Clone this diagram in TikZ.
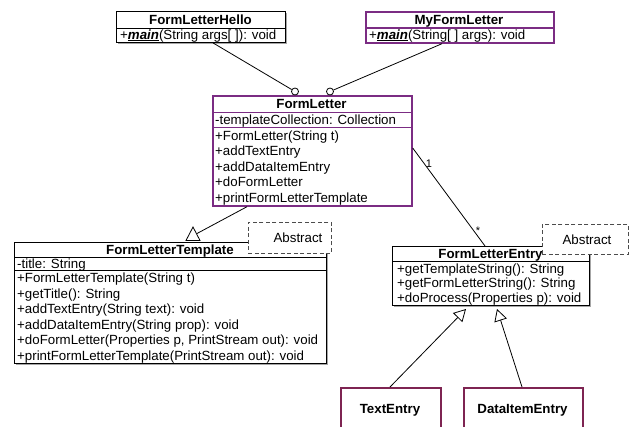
\documentclass[tikz,border=0pt]{standalone}
\usepackage{fontspec}
\setmainfont{Liberation Sans}
\usetikzlibrary{arrows.meta,shadows,calc}
\definecolor{umlpurple}{HTML}{7B2C83}
\definecolor{umlmaroon}{HTML}{7E2452}
\newcommand\umlfont{\fontsize{13.3}{15.5}\selectfont}
\newcommand\umlmain{\textbf{\textit{\underline{main}}}}
\tikzset{
  cls/.style={draw=black, line width=0.9pt, fill=white, anchor=north west, inner sep=0pt,
    drop shadow={shadow xshift=1.6pt, shadow yshift=-1.6pt, opacity=0.35, fill=black}},
  pcls/.style={cls, draw=umlpurple, line width=1.7pt},
  mcls/.style={cls, draw=umlmaroon, line width=1.7pt},
  absbox/.style={draw=black!70, dash pattern=on 4pt off 2.5pt, fill=white, line width=0.9pt,
    anchor=north west, inner sep=0pt},
  ttl/.style={anchor=base, inner sep=0pt, font=\umlfont\bfseries},
  mem/.style={anchor=base west, inner sep=0pt, font=\umlfont},
  sep/.style={line width=0.9pt, black},
  psep/.style={line width=1.7pt, umlpurple},
  wire/.style={line width=0.8pt, black},
  gen/.style={wire, -{Triangle[open, length=12pt, width=13pt, line width=0.8pt]}},
  lolli/.style={circle, draw=black, line width=0.8pt, fill=white, minimum size=7pt, inner sep=0pt},
  mult/.style={inner sep=0pt, font=\fontsize{11}{13}\selectfont},
}
\begin{document}
\begin{tikzpicture}[x=1pt, y=-1pt]
\useasboundingbox (0,0) rectangle (637,426);
\clip (0,0) rectangle (637,426);
\fill[white] (0,0) rectangle (637,426);

% ---------- FormLetterHello
\node[cls, minimum width=169pt, minimum height=31pt] (flh) at (116,11) {};
\draw[sep] (flh.west |- 0,28) -- (flh.east |- 0,28);
\node[ttl] (flhT) at (200.5,24) {FormLetterHello};
\node[mem] (flhM) at (120,39) {+\umlmain(String args[\ ]): void};

% ---------- MyFormLetter
\node[pcls, minimum width=188pt, minimum height=31pt] (mfl) at (365,11) {};
\draw[psep] (mfl.west |- 0,28) -- (mfl.east |- 0,28);
\node[ttl] (mflT) at (459,24) {MyFormLetter};
\node[mem] (mflM) at (369,39) {+\umlmain(String[\ ] args): void};

% ---------- FormLetter
\node[pcls, minimum width=199pt, minimum height=110pt] (fl) at (212,95) {};
\draw[psep] (fl.west |- 0,112.5) -- (fl.east |- 0,112.5);
\draw[psep] (fl.west |- 0,127.5) -- (fl.east |- 0,127.5);
\node[ttl] (flT) at (311.5,108.5) {FormLetter};
\node[mem] (flA) at (215,124.5) {-templateCollection: Collection};
\foreach \t [count=\i from 0] in {+FormLetter(String t), +addTextEntry, +addDataItemEntry, +doFormLetter, +printFormLetterTemplate}
  \node[mem] (flM\i) at (215,140.5+15.4*\i) {\t};

% ---------- FormLetterTemplate
\node[cls, minimum width=312pt, minimum height=121pt] (flt) at (14,242) {};
\draw[sep] (flt.west |- 0,257) -- (flt.east |- 0,257);
\draw[sep] (flt.west |- 0,270) -- (flt.east |- 0,270);
\node[ttl] (fltT) at (170,254.5) {FormLetterTemplate};
\node[mem] (fltA) at (17,268) {-title: String};
\foreach \t [count=\i from 0] in {+FormLetterTemplate(String t), +getTitle(): String, +addTextEntry(String text): void, +addDataItemEntry(String prop): void, {+doFormLetter(Properties p, PrintStream out): void}, +printFormLetterTemplate(PrintStream out): void}
  \node[mem] (fltM\i) at (17,282.5+15.5*\i) {\t};

% ---------- FormLetterEntry
\node[cls, minimum width=197pt, minimum height=59pt] (fle) at (392,246) {};
\draw[sep] (fle.west |- 0,261) -- (fle.east |- 0,261);
\node[ttl] (fleT) at (490.5,258) {FormLetterEntry};
\foreach \t [count=\i from 0] in {+getTemplateString(): String, +getFormLetterString(): String, +doProcess(Properties p): void}
  \node[mem] (fleM\i) at (397,273+14.7*\i) {\t};

% ---------- Abstract notes
\node[absbox, minimum width=83pt, minimum height=31pt] (abs1) at (248,222) {};
\node[mem, anchor=base] (abs1T) at (298,242) {Abstract};
\node[absbox, minimum width=86pt, minimum height=30pt] (abs2) at (542,224) {};
\node[mem, anchor=base] (abs2T) at (587,244) {Abstract};

% ---------- TextEntry, DataItemEntry
\node[mcls, minimum width=100pt, minimum height=60pt] (te) at (340,387) {};
\node[ttl] (teT) at (390,413) {TextEntry};
\node[mcls, minimum width=119pt, minimum height=60pt] (die) at (463,387) {};
\node[ttl] (dieT) at (522.5,413) {DataItemEntry};

% ---------- connectors
\node[lolli] (c1) at (295,91.5) {};
\node[lolli] (c2) at (330,91.5) {};
\draw[wire] ([xshift=97pt]flh.south west) -- (c1);
\draw[wire] ([xshift=77pt]mfl.south west) -- (c2);

\coordinate (tri) at (197,233.5);
\draw[wire] ([xshift=35pt]fl.south west) -- (tri);
\draw[wire, fill=white] (186,240.5) -- (193,227) -- (200,240.5) -- cycle;

\draw[wire] ([yshift=-53pt]fl.north east) -- ([xshift=93pt]fle.north west);
\node[mult] (m1) at (429,164) {1};
\node[mult] (m2) at (478,231) {*};

\coordinate (tipA) at (466,309);
\coordinate (tipB) at (497,309);
\draw[gen] ([xshift=50pt]te.north west) -- (tipA);
\draw[gen] ([xshift=59pt]die.north west) -- (tipB);
\end{tikzpicture}
\end{document}
